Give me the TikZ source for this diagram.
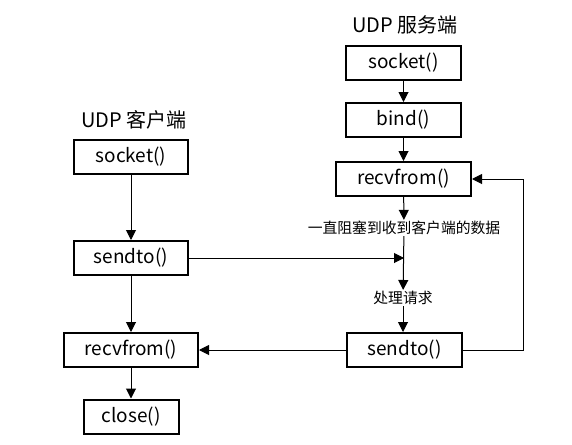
\documentclass[tikz,border=0pt]{standalone}
\usepackage{fontspec}
\setmainfont{Noto Sans CJK SC}
\usetikzlibrary{arrows.meta}
\tikzset{
    box/.style={draw,line width=2pt,minimum height=34pt,inner sep=0pt,font=\fontsize{19}{22}\selectfont},
    lbl/.style={inner sep=1pt,font=\fontsize{14.8}{17}\selectfont},
    ttl/.style={inner sep=0pt,font=\fontsize{20}{23}\selectfont},
    arr/.style={line width=1pt,-{Triangle[length=10pt,width=10pt]}}
}
\begin{document}
\begin{tikzpicture}[x=1pt,y=-1pt]
        \useasboundingbox (0,0) rectangle (572,444);
        % server side
        \node[ttl] (stitle) at (405,25) {UDP 服务端};
        \node[box,minimum width=115pt] (ssock) at (403.5,63) {socket()};
        \node[box,minimum width=115pt] (sbind) at (403.5,120) {bind()};
        \node[box,minimum width=135pt] (srecv) at (403.5,179) {recvfrom()};
        \node[lbl] (wait) at (404,228) {一直阻塞到收到客户端的数据};
        \node[lbl] (handle) at (403,298) {处理请求};
        \node[box,minimum width=115pt] (ssend) at (404.5,350) {sendto()};
        % client side
        \node[ttl] (ctitle) at (134,120) {UDP 客户端};
        \node[box,minimum width=114pt] (csock) at (131,157) {socket()};
        \node[box,minimum width=114pt] (csend) at (131,258) {sendto()};
        \node[box,minimum width=134pt] (crecv) at (131,350) {recvfrom()};
        \node[box,minimum width=95pt] (cclose) at (131,416.5) {close()};
        \coordinate (join) at (wait.south |- csend.east);
        \coordinate (loop) at (523,350);
        % arrows
        \draw[arr] (ssock) -- (sbind);
        \draw[arr] (sbind) -- (srecv);
        \draw[arr] (srecv) -- (wait);
        \draw[arr] (wait) -- (handle);
        \draw[arr] (handle) -- (ssend.north -| handle);
        \draw[arr] (ssend.east) -- (loop) |- (srecv.east);
        \draw[arr] (csock) -- (csend);
        \draw[arr] (csend) -- (crecv);
        \draw[arr] (crecv) -- (cclose);
        \draw[arr] (csend.east) -- (join);
        \draw[arr] (ssend.west) -- (crecv.east);
\end{tikzpicture}
\end{document}
